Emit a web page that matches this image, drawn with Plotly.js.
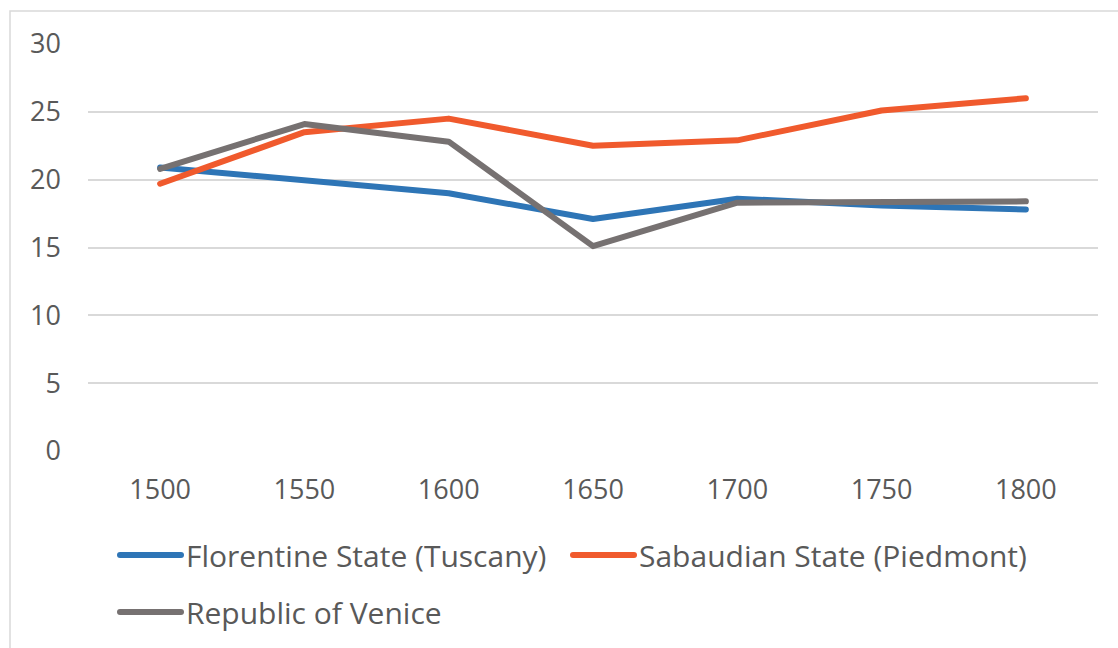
<!DOCTYPE html>
<html>
<head>
<meta charset="utf-8">
<script src="https://cdn.plot.ly/plotly-3.0.1.min.js"></script>
<style>
  html, body { margin: 0; padding: 0; background: #fff; }
  #chart { width: 1118px; height: 648px; }
  #chart path.js-line { stroke-linecap: round !important; stroke-linejoin: round !important; }
</style>
</head>
<body>
<div id="chart"></div>
<script>
const years = ["1500", "1550", "1600", "1650", "1700", "1750", "1800"];
const florentine = [20.9, 19.9, 19.0, 17.1, 18.6, 18.1, 17.8];
const sabaudian = [19.7, 23.5, 24.5, 22.5, 22.9, 25.1, 26.0];
const venice = [20.8, 24.1, 22.8, 15.1, 18.3, 18.4, 18.4];
const seriesNames = ["Florentine State (Tuscany)", "Sabaudian State (Piedmont)", "Republic of Venice"];
const yTicks = [0, 5, 10, 15, 20, 25, 30];

const FONT = "Open Sans, Noto Sans, sans-serif";
const TXT = "#595959";

const traces = [
  {x: years, y: florentine, name: seriesNames[0], type: "scatter", mode: "lines",
   line: {color: "#2E75B6", width: 6}, legend: "legend"},
  {x: years, y: sabaudian, name: seriesNames[1], type: "scatter", mode: "lines",
   line: {color: "#F05A2D", width: 6}, legend: "legend3"},
  {x: years, y: venice, name: seriesNames[2], type: "scatter", mode: "lines",
   line: {color: "#767171", width: 6}, legend: "legend2"}
];

function leg(xpx, ypx) {
  return {
    orientation: "h", xref: "container", yref: "container",
    x: xpx / 1118, y: 1 - ypx / 648, xanchor: "left", yanchor: "top",
    itemwidth: 61,
    font: {family: FONT, size: 30, color: TXT},
    bgcolor: "rgba(0,0,0,0)"
  };
}

const layout = {
  width: 1118, height: 648,
  margin: {l: 88, r: 20, t: 44, b: 197},
  paper_bgcolor: "#fff", plot_bgcolor: "#fff",
  font: {family: FONT, color: TXT, size: 27},
  xaxis: {
    type: "category", range: [-0.5, 6.5],
    showgrid: false, zeroline: false, showline: false,
    ticks: "", ticklabelstandoff: 20,
    tickfont: {family: FONT, size: 27, color: TXT}
  },
  yaxis: {
    range: [0, 30], tickvals: yTicks, ticktext: yTicks.map(String),
    showgrid: true, gridcolor: "#d9d9d9", gridwidth: 2,
    zeroline: false, showline: false, ticks: "",
    ticklabelstandoff: 26,
    tickfont: {family: FONT, size: 27, color: TXT}
  },
  showlegend: true,
  legend: leg(115, 529),
  legend3: leg(568, 529),
  legend2: leg(115, 586),
  shapes: [
    {type: "rect", xref: "paper", yref: "paper",
     x0: (10 - 88) / 1010, x1: 1.2, y0: -0.7, y1: (451 - 11) / 407,
     line: {color: "#d9d9d9", width: 1.5}, fillcolor: "rgba(0,0,0,0)", layer: "below"}
  ]
};

Plotly.newPlot("chart", traces, layout, {displayModeBar: false, staticPlot: true});
</script>
</body>
</html>
